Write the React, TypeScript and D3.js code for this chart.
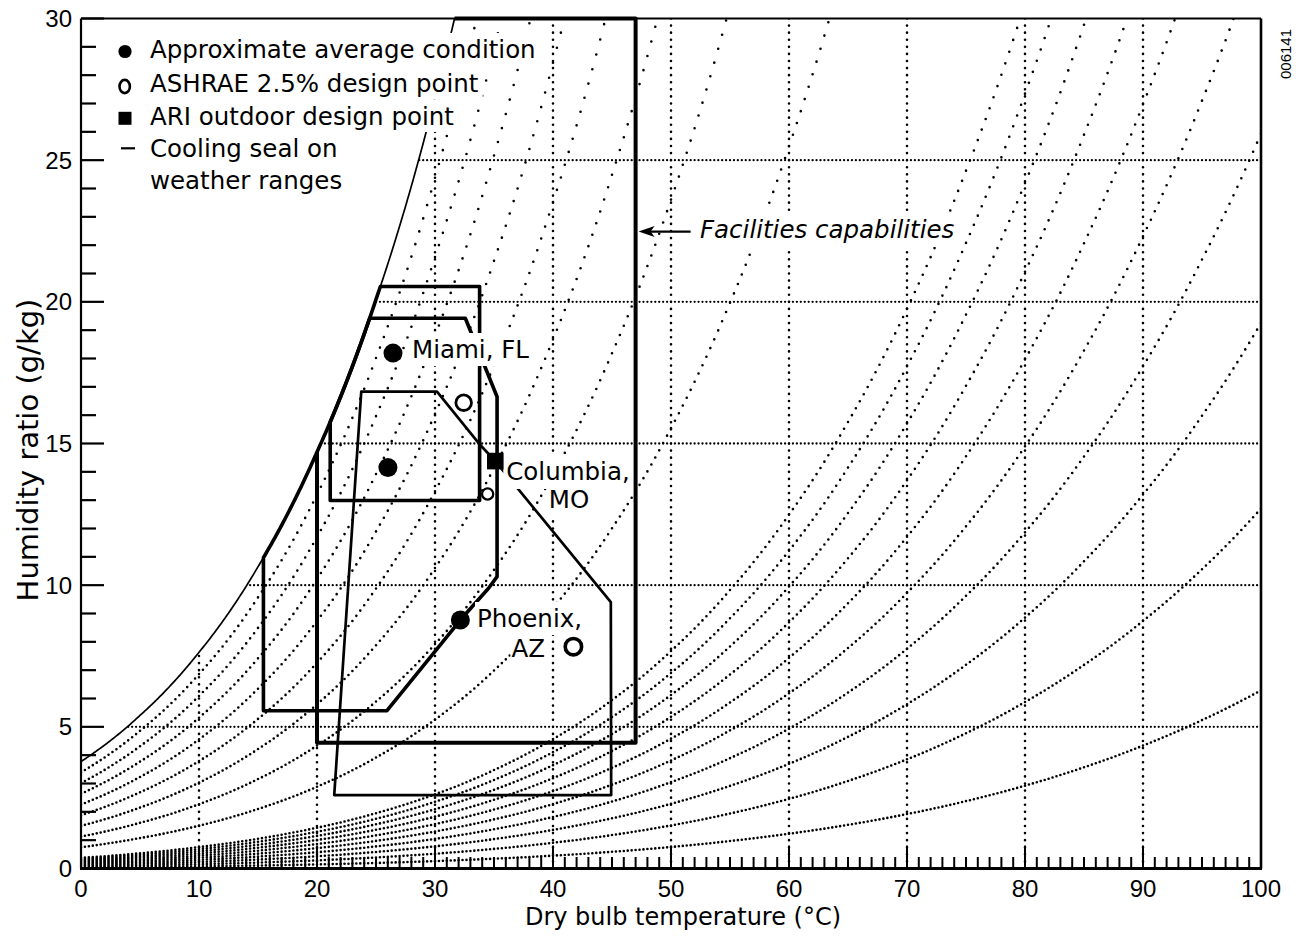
import React, { useLayoutEffect, useRef, useState } from "react";
import * as d3 from "d3";

// saturation vapour pressure over water (kPa), every 5 °C
const satTemps = [0, 5, 10, 15, 20, 25, 30, 35, 40, 45, 50, 55, 60, 65, 70, 75, 80, 85, 90, 95, 100];
const satPressure = [
  0.6112, 0.8726, 1.2282, 1.7057, 2.3392, 3.1697, 4.2467, 5.6286, 7.3844, 9.5944, 12.351,
  15.761, 19.946, 25.041, 31.201, 38.595, 47.414, 57.867, 70.182, 84.609, 101.42,
];
const P_ATM = 101.325;

// dotted relative humidity lines
const rhLevels = [0.01, 0.02, 0.03, 0.04, 0.05, 0.06, 0.07, 0.08, 0.09, 0.1, 0.2, 0.3, 0.4, 0.5, 0.6, 0.7, 0.8, 0.9];

const xTickLabels = [0, 10, 20, 30, 40, 50, 60, 70, 80, 90, 100];
const yTickLabels = [0, 5, 10, 15, 20, 25, 30];
const xGrid = [10, 20, 30, 40, 50, 60, 70, 80, 90];
const yGrid = [5, 10, 15, 20, 25];

// outlines as [°C, g/kg]; null = the point sits on the saturation curve
type Vtx = [number | null, number | null];
const facilities: Vtx[] = [[20, null], [20, 4.44], [47, 4.44], [47, 30], [null, 30]];
const miamiRange: Vtx[] = [[null, 20.54], [33.78, 20.54], [33.78, 12.99], [21.12, 12.99], [21.12, null]];
const columbiaRange: Vtx[] = [
  [null, 19.42], [32.57, 19.42], [35.26, 16.65], [35.26, 10.3], [34.54, 9.89],
  [33.27, 9.3], [32.15, 8.77], [25.93, 5.57], [15.46, 5.57], [15.46, null],
];
const phoenixRange: Vtx[] = [
  [23.75, 16.83], [30.17, 16.83], [33.7, 15.01], [35.11, 14.38], [44.9, 9.4], [44.93, 2.59], [21.46, 2.59],
];

const avgCondition = [
  { city: "Miami", t: 26.44, w: 18.19 },
  { city: "Columbia", t: 26.01, w: 14.15 },
  { city: "Phoenix", t: 32.15, w: 8.77 },
];
const ashraePoint = [
  { city: "Miami", t: 32.43, w: 16.44 },
  { city: "Columbia", t: 34.46, w: 13.22 },
  { city: "Phoenix", t: 41.73, w: 7.83 },
];
const ariPoint = [{ city: "Columbia", t: 35.11, w: 14.38 }];

const legendLabels = [
  "Approximate average condition",
  "ASHRAE 2.5% design point",
  "ARI outdoor design point",
  "Cooling seal on",
  "weather ranges",
];

const SANS = "'DejaVu Sans', Verdana, sans-serif";
const TICK = "'Liberation Sans', Arial, sans-serif";

type Box = { left?: number; top?: number; bottom?: number };

function BoxedText(props: {
  x: number;
  y: number;
  text: string;
  anchor?: "start" | "middle" | "end";
  size?: number;
  italic?: boolean;
  pad?: number;
  fixed?: Box;
}) {
  const ref = useRef<SVGTextElement>(null);
  const [bb, setBb] = useState<{ x: number; y: number; w: number; h: number } | null>(null);
  useLayoutEffect(() => {
    if (!ref.current) return;
    const b = ref.current.getBBox();
    setBb({ x: b.x, y: b.y, w: b.width, h: b.height });
  }, [props.text, props.x, props.y]);
  const pad = props.pad ?? 2;
  let rect = null;
  if (bb) {
    const left = props.fixed?.left ?? bb.x - pad;
    const right = bb.x + bb.w + pad;
    const top = props.fixed?.top ?? bb.y - pad;
    const bottom = props.fixed?.bottom ?? bb.y + bb.h + pad;
    rect = <rect x={left} y={top} width={right - left} height={bottom - top} fill="#fff" />;
  }
  return (
    <g>
      {rect}
      <text
        ref={ref}
        x={props.x}
        y={props.y}
        textAnchor={props.anchor ?? "start"}
        fontFamily={SANS}
        fontSize={props.size ?? 24.5}
        fontStyle={props.italic ? "italic" : "normal"}
        fill="#000"
      >
        {props.text}
      </text>
    </g>
  );
}

export default function App() {
  const x = d3.scaleLinear().domain([0, 100]).range([81, 1261]);
  const y = d3.scaleLinear().domain([0, 30]).range([868.5, 18.5]);

  // log-linear lookup in the vapour pressure table
  const lnP = d3.scaleLinear().domain(satTemps).range(satPressure.map(Math.log));
  const wAt = (t: number, rh: number) => {
    const p = rh * Math.exp(lnP(t));
    return (622 * p) / (P_ATM - p);
  };
  const tSat = (w: number) => {
    let lo = 0, hi = 100;
    for (let i = 0; i < 50; i++) {
      const m = (lo + hi) / 2;
      if (wAt(m, 1) < w) lo = m;
      else hi = m;
    }
    return (lo + hi) / 2;
  };
  const tTop = tSat(30);

  const satRun = (t0: number, t1: number): [number, number][] => {
    const n = Math.max(2, Math.ceil(Math.abs(t1 - t0) / 0.1));
    return d3.range(n + 1).map((i) => {
      const t = t0 + ((t1 - t0) * i) / n;
      return [t, wAt(t, 1)];
    });
  };

  const line = d3
    .line<[number, number]>()
    .x((d) => x(d[0]))
    .y((d) => y(d[1]));

  const resolve = ([t, w]: Vtx): [number, number] =>
    t === null ? [tSat(w as number), w as number] : w === null ? [t, wAt(t, 1)] : [t, w];

  const outline = (verts: Vtx[], mode: "open" | "closed" | "sat") => {
    const pts = verts.map(resolve);
    if (mode === "sat") {
      const last = pts[pts.length - 1];
      return line([...pts, ...satRun(last[0], pts[0][0])]) + "Z";
    }
    return line(pts) + (mode === "closed" ? "Z" : "");
  };

  const dots = (pts: [number, number][]) =>
    pts.map(([t, w]) => `M${x(t).toFixed(2)},${y(w).toFixed(2)}h0.01`).join("");

  const rhPaths = rhLevels.map((rh) =>
    dots(
      d3
        .range(0, 301)
        .map((k) => [k / 3, wAt(k / 3, rh)] as [number, number])
        .filter((p) => p[1] <= 30)
    )
  );

  const hGrid = yGrid.map((w) => {
    const t0 = tSat(w);
    return dots(d3.range(Math.ceil(t0 * 3), 301).map((k) => [k / 3, w] as [number, number]));
  });
  const vGrid = xGrid.map((t) => {
    const wmax = Math.min(wAt(t, 1), 30);
    return dots(d3.range(0, Math.floor(wmax * 4) + 1).map((j) => [t, j / 4] as [number, number]));
  });

  const ringSize: Record<string, [number, number]> = {
    Miami: [7.8, 2.8],
    Columbia: [5.6, 2.3],
    Phoenix: [8.2, 3.6],
  };

  const legendBase = [58, 92, 124.5, 157, 189];
  const legendTop = [33, 67, 99.5, 132, 164];
  const legendBottom = [67, 99.5, 132, 164, 197];

  const arrowY = y(22.48);
  const arrowX = x(47);

  return (
    <svg
      width={1296}
      height={941}
      style={{ position: "absolute", left: 0, top: 0, background: "#fff" }}
    >
      <defs>
        <clipPath id="plot">
          <rect x={x(0)} y={y(30)} width={x(100) - x(0)} height={y(0) - y(30)} />
        </clipPath>
      </defs>
      <rect width={1296} height={941} fill="#fff" />

      {/* dotted RH curves and grid */}
      <g clipPath="url(#plot)" fill="none" stroke="#000" strokeLinecap="round">
        {rhPaths.map((d, i) => (
          <path key={"rh" + i} d={d} strokeWidth={2.6} />
        ))}
        {hGrid.map((d, i) => (
          <path key={"h" + i} d={d} strokeWidth={2.3} />
        ))}
        {vGrid.map((d, i) => (
          <path key={"v" + i} d={d} strokeWidth={2.6} />
        ))}
      </g>

      {/* saturation curve */}
      <path d={line(satRun(0, tTop)) ?? ""} fill="none" stroke="#000" strokeWidth={1.7} />

      {/* ranges */}
      <g fill="none" stroke="#000" strokeLinejoin="round">
        <path d={outline(facilities, "open")} strokeWidth={4} />
        <path d={outline(miamiRange, "sat")} strokeWidth={3.6} />
        <path d={outline(columbiaRange, "sat")} strokeWidth={3.6} />
        <path d={outline(phoenixRange, "closed")} strokeWidth={2.7} />
      </g>

      {/* frame */}
      <g stroke="#000" fill="none">
        <line x1={x(0)} x2={x(0)} y1={y(30)} y2={y(0)} strokeWidth={2.2} />
        <line x1={x(0)} x2={x(100)} y1={y(30)} y2={y(30)} strokeWidth={2.2} />
        <line x1={x(100)} x2={x(100)} y1={y(30)} y2={y(0)} strokeWidth={2.6} />
        <line x1={x(0) - 1} x2={x(100) + 1} y1={y(0)} y2={y(0)} strokeWidth={3} />
        {x.ticks(100).map((t) => (
          <line
            key={"xt" + t}
            x1={x(t)}
            x2={x(t)}
            y1={y(0)}
            y2={y(0) - (xTickLabels.includes(t) ? 23 : 11.5)}
            strokeWidth={2}
          />
        ))}
        {y.ticks(30).map((w) => (
          <line
            key={"yt" + w}
            x1={x(0)}
            x2={x(0) + (yTickLabels.includes(w) ? 23 : 15)}
            y1={y(w)}
            y2={y(w)}
            strokeWidth={2.2}
          />
        ))}
      </g>

      {/* legend */}
      {legendLabels.map((s, i) => (
        <BoxedText
          key={"lg" + i}
          x={150}
          y={legendBase[i]}
          text={s}
          pad={4}
          fixed={{ left: 111, top: legendTop[i], bottom: legendBottom[i] }}
        />
      ))}
      <circle cx={125} cy={51.5} r={6.6} fill="#000" />
      <ellipse cx={124.7} cy={86.5} rx={5.2} ry={6.6} fill="none" stroke="#000" strokeWidth={2.6} />
      <rect x={118.5} y={111.8} width={13} height={13} fill="#000" />
      <line x1={121} x2={135} y1={148.3} y2={148.3} stroke="#000" strokeWidth={2.2} />

      {/* annotations */}
      <BoxedText x={412} y={358} text="Miami, FL" />
      <BoxedText x={568} y={480} anchor="middle" text="Columbia," pad={3} />
      <BoxedText x={569} y={508} anchor="middle" text="MO" />
      <BoxedText x={477} y={627} text="Phoenix," />
      <BoxedText x={545} y={657} anchor="end" text="AZ" pad={1} />
      <BoxedText x={700} y={238} text="Facilities capabilities" italic pad={3} />
      <line x1={arrowX + 12} x2={arrowX + 55} y1={arrowY} y2={arrowY} stroke="#000" strokeWidth={2.2} />
      <path
        d={`M${arrowX + 3},${arrowY}L${arrowX + 19},${arrowY - 5.5}L${arrowX + 15},${arrowY}L${arrowX + 19},${arrowY + 5.5}Z`}
        fill="#000"
      />

      {/* points */}
      {avgCondition.map((p) => (
        <circle key={"a" + p.city} cx={x(p.t)} cy={y(p.w)} r={9.5} fill="#000" />
      ))}
      {ashraePoint.map((p) => (
        <circle
          key={"o" + p.city}
          cx={x(p.t)}
          cy={y(p.w)}
          r={ringSize[p.city][0]}
          fill="#fff"
          stroke="#000"
          strokeWidth={ringSize[p.city][1]}
        />
      ))}
      {ariPoint.map((p) => (
        <rect key={"s" + p.city} x={x(p.t) - 8.3} y={y(p.w) - 8.3} width={16.6} height={16.6} fill="#000" />
      ))}

      {/* tick labels */}
      <g fontFamily={TICK} fontSize={24} fill="#000">
        {xTickLabels.map((t) => (
          <text key={"xl" + t} x={x(t)} y={897} textAnchor="middle">
            {t}
          </text>
        ))}
        {yTickLabels.map((w) => (
          <text key={"yl" + w} x={72} y={y(w)} dy="0.36em" textAnchor="end">
            {w}
          </text>
        ))}
      </g>

      {/* axis titles */}
      <text x={683} y={925} textAnchor="middle" fontFamily={SANS} fontSize={24} fill="#000">
        Dry bulb temperature (°C)
      </text>
      <text
        transform={`translate(38,450) rotate(-90)`}
        textAnchor="middle"
        fontFamily={SANS}
        fontSize={29}
        fill="#000"
      >
        Humidity ratio (g/kg)
      </text>
      <text
        transform={`translate(1291,54) rotate(-90)`}
        textAnchor="middle"
        fontFamily={TICK}
        fontSize={15}
        fill="#000"
      >
        006141
      </text>
    </svg>
  );
}
